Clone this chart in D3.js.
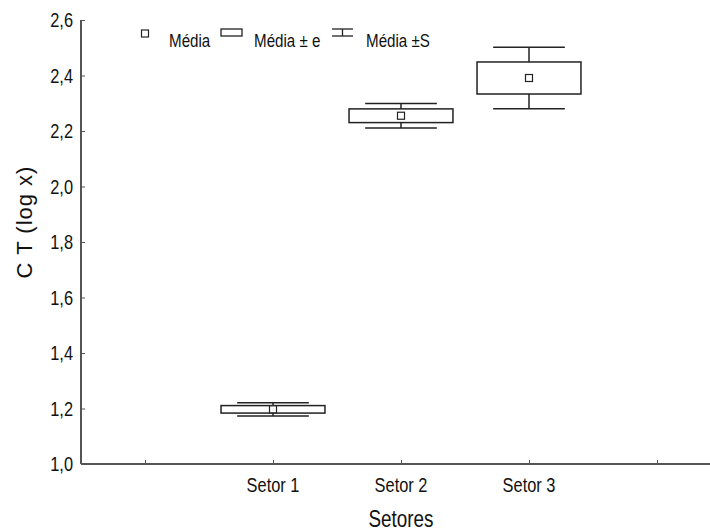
<!DOCTYPE html>
<html lang="pt">
<head>
  <meta charset="UTF-8">
  <title>CT por setor</title>
  <script src="https://d3js.org/d3.v7.min.js"></script>
  <style>
    * { margin: 0; padding: 0; box-sizing: border-box; }
    body { background: #fff; width: 710px; height: 531px; overflow: hidden; }
    svg text {
      font-family: "Liberation Sans Narrow", "Arial Narrow", "Liberation Sans", Arial, sans-serif;
      fill: #111;
    }
    .axis path, .axis line { stroke: #555; }
  </style>
</head>
<body>
  <svg id="chart" width="710" height="531"></svg>

  <script>
    // data
    const categories = ["Setor 1", "Setor 2", "Setor 3"];
    const means = [1.197, 2.255, 2.391];
    const stdErr = [0.0135, 0.0247, 0.0577];
    const stdDev = [0.024, 0.044, 0.1106];

    const yTicks = [1.0, 1.2, 1.4, 1.6, 1.8, 2.0, 2.2, 2.4, 2.6];
    const xTickPositions = [0, 1, 2, 3, 4];
    const xTickLabels = ["", "Setor 1", "Setor 2", "Setor 3", ""];

    const svg = d3.select("#chart");

    const plot = { left: 81, right: 721, top: 20, bottom: 464 };

    const x = d3.scaleLinear().domain([-0.5, 4.5]).range([plot.left, plot.right]);
    const y = d3.scaleLinear().domain([1.0, 2.6]).range([plot.bottom, plot.top]);

    const boxHalf = 0.406;    // in category units
    const whiskerHalf = 0.28;
    const narrow = 0.82;      // no narrow font installed, squeeze the text instead
    const fmt = v => d3.format(".1f")(v).replace(".", ",");

    function label(parent, tx, ty, str, size, anchor, rot, sx) {
      const k = sx === undefined ? narrow : sx;
      return parent.append("text")
        .attr("transform", `translate(${tx},${ty})${rot ? ` rotate(${rot})` : ""} scale(${k},1)`)
        .attr("text-anchor", anchor || "start")
        .style("font-size", size + "px")
        .text(str);
    }

    // y axis
    const yAxis = svg.append("g")
      .attr("class", "axis")
      .attr("transform", `translate(${plot.left},0)`)
      .call(d3.axisRight(y).tickValues(yTicks).tickSize(4).tickFormat(""));
    yAxis.select(".domain").attr("d", `M0,${plot.top}V${plot.bottom}`).attr("stroke-width", 2);

    const yLab = svg.append("g");
    yTicks.forEach(v => {
      label(yLab, plot.left - 8, y(v), fmt(v), 20, "end").attr("dy", "0.36em");
    });

    // x axis
    const xAxis = svg.append("g")
      .attr("class", "axis")
      .attr("transform", `translate(0,${plot.bottom})`)
      .call(d3.axisTop(x).tickValues(xTickPositions).tickSize(4).tickFormat(""));
    xAxis.select(".domain").attr("d", `M${plot.left},0H${plot.right}`).attr("stroke-width", 2);

    const xLab = svg.append("g");
    xTickPositions.forEach((p, i) => {
      if (xTickLabels[i]) label(xLab, x(p), 492, xTickLabels[i], 20, "middle");
    });

    // axis titles
    label(svg, x(2), 527, "Setores", 23, "middle");
    label(svg, 32, 222, "C T (log x)", 22, "middle", -90, 1).style("letter-spacing", "1px");

    // boxes
    const g = svg.append("g");
    categories.forEach((c, i) => {
      const pos = i + 1;
      const m = means[i], e = stdErr[i], s = stdDev[i];

      // whisker stems
      g.append("line")
        .attr("x1", x(pos)).attr("x2", x(pos))
        .attr("y1", y(m + s)).attr("y2", y(m - s))
        .attr("stroke", "#222").attr("stroke-width", 1.5);
      // caps
      [m + s, m - s].forEach(v => {
        g.append("line")
          .attr("x1", x(pos - whiskerHalf)).attr("x2", x(pos + whiskerHalf))
          .attr("y1", y(v)).attr("y2", y(v))
          .attr("stroke", "#222").attr("stroke-width", 1.5);
      });
      // box
      g.append("rect")
        .attr("x", x(pos - boxHalf))
        .attr("y", y(m + e))
        .attr("width", x(pos + boxHalf) - x(pos - boxHalf))
        .attr("height", y(m - e) - y(m + e))
        .attr("fill", "#fff")
        .attr("stroke", "#222").attr("stroke-width", 1.5);
      // mean
      g.append("rect")
        .attr("x", x(pos) - 3.5).attr("y", y(m) - 3.5)
        .attr("width", 7).attr("height", 7)
        .attr("fill", "#fff")
        .attr("stroke", "#222").attr("stroke-width", 1.2);
    });

    // legend
    const lg = svg.append("g");
    lg.append("rect").attr("x", 141.5).attr("y", 30).attr("width", 7).attr("height", 7)
      .attr("fill", "#fff").attr("stroke", "#222").attr("stroke-width", 1.2);
    label(lg, 169, 47, "Média", 18.5);

    lg.append("rect").attr("x", 221).attr("y", 29).attr("width", 21).attr("height", 7)
      .attr("fill", "#fff").attr("stroke", "#222").attr("stroke-width", 1.3);
    label(lg, 254, 47, "Média ± e", 18.5);

    lg.append("line").attr("x1", 332).attr("x2", 353).attr("y1", 29).attr("y2", 29)
      .attr("stroke", "#222").attr("stroke-width", 1.3);
    lg.append("line").attr("x1", 332).attr("x2", 353).attr("y1", 36).attr("y2", 36)
      .attr("stroke", "#222").attr("stroke-width", 1.3);
    lg.append("line").attr("x1", 342.5).attr("x2", 342.5).attr("y1", 29).attr("y2", 36)
      .attr("stroke", "#222").attr("stroke-width", 1.3);
    label(lg, 366, 47, "Média ±S", 18.5);
  </script>
</body>
</html>
